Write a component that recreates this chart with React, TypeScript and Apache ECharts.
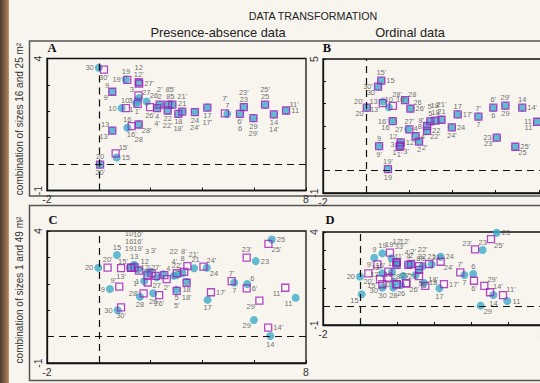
import React, { useEffect, useRef } from "react";
import * as echarts from "echarts";

type Pt = [number, number];
type Lab = string | [number, number];

const FONT = "'Liberation Sans', Arial, Helvetica, sans-serif";
const SERIF = "'Liberation Serif', 'Times New Roman', serif";
const TEAL = "#3caac8";
const PURPLE = "#a01eb9";

const mainTitle = "DATA TRANSFORMATION";
const colTitles = ["Presence-absence data", "Ordinal data"];
const rowTitles = ["combination of sizes 16 and 25 m²", "combination of sizes 1 and 49 m²"];
const panelLetters = ["A", "B", "C", "D"];

const xMinAll = -2;
const yMinAll = -1;
const xMaxes = [8, 10, 8, 10];
const yMaxes = [4, 5, 4, 4];

// ---------- Panel A (presence-absence, sizes 16 & 25) ----------
const aCircles: Pt[] = [
  [1.45, 2.3], [2.35, 2.25], [1.5, 2.4], [2.25, 2.12], [2.84, 2.25],
  [5.45, 1.9], [4.96, 1.9], [2.68, 2.25], [0.52, 2.74], [0.88, 2.12],
  [7.23, 2.03], [1.54, 3.1], [0.52, 1.27], [6.76, 1.88], [0.69, 0.25],
  [1.1, 1.38], [4.19, 2.14], [3.07, 1.9], [1.05, 3.2], [0.05, -0.02],
  [3.22, 1.99], [2.66, 2.03], [5.6, 2.16], [3.71, 1.97], [6.42, 2.25],
  [1.85, 2.37], [1.55, 2.5], [1.54, 1.5], [5.97, 1.74], [0.0, 3.65],
];
const aSquares: Pt[] = [
  [1.5, 2.28], [2.35, 2.25], [1.53, 2.6], [2.25, 2.12], [2.84, 2.25],
  [5.45, 1.9], [4.87, 1.92], [2.68, 2.25], [0.52, 2.74], [1.05, 2.12],
  [7.23, 2.03], [1.54, 3.1], [0.52, 1.27], [6.76, 1.88], [0.65, 0.41],
  [1.27, 1.44], [4.19, 2.14], [3.07, 1.9], [1.1, 3.19], [0.05, -0.02],
  [3.22, 1.99], [2.66, 2.03], [5.6, 2.16], [3.71, 1.97], [6.42, 2.25],
  [1.98, 2.16], [1.56, 3.05], [1.54, 1.5], [5.97, 1.74], [0.2, 3.58],
];
const aCircleLab: Lab[] = [
  "bl", "t", "l", "b", "t", "bb", "t", "t", "tl", "l",
  "r", "tt", "tl", "b", "r", "t", "b", "b", "t", "t",
  "t", "b", "t", "b", "t", "tr", "tr", "bb", "b", "l",
];
const aSquareLab: Lab[] = [
  "b", "tt", "tl", "bb", "tt", "b", "tt", "tt", "bl", "t",
  "tr", "t", "bl", "bb", "tr", "b", "bb", "bb", "l", "b",
  "tt", "bb", "tt", "bb", "tt", "b", "r", "br", "bb", "b",
];

// ---------- Panel B (ordinal, sizes 16 & 25) ----------
const bCircles: Pt[] = [
  [1.55, 1.07], [2.45, 1.3], [1.55, 1.15], [2.29, 1.55], [2.97, 2.21],
  [5.89, 2.82], [5.2, 2.42], [2.82, 2.0], [0.6, 1.1], [1.05, 2.84],
  [7.92, 2.19], [1.58, 1.27], [0.77, 3.09], [7.23, 2.82], [0.7, 4.03],
  [1.23, 2.22], [4.24, 2.52], [3.21, 2.24], [1.01, 0.07], [0.03, 2.82],
  [3.49, 2.28], [2.82, 1.78], [6.05, 1.48], [3.97, 1.94], [6.91, 1.07],
  [2.05, 2.78], [1.95, 1.85], [1.8, 3.16], [6.45, 2.91], [0.55, 3.76],
];
const bSquares: Pt[] = [
  [1.55, 1.07], [2.45, 1.3], [1.58, 1.12], [2.29, 1.55], [2.97, 2.21],
  [5.89, 2.82], [5.2, 2.42], [2.82, 2.0], [0.6, 1.1], [1.24, 2.9],
  [7.92, 2.19], [1.6, 1.27], [0.77, 3.02], [7.23, 2.82], [0.7, 4.03],
  [1.23, 2.22], [4.24, 2.52], [3.21, 2.24], [1.01, 0.07], [0.03, 2.82],
  [3.49, 2.28], [2.82, 1.78], [6.05, 1.48], [3.97, 1.94], [6.91, 1.07],
  [2.05, 2.78], [2.0, 1.85], [1.8, 3.16], [6.45, 2.91], [0.55, 3.76],
];
const bCircleLab: Lab[] = [
  "bl", "b", "l", "t", "t", "b", "b", "l", "t", "t",
  "l", "tl", "l", "t", "r", "bl", "t", "t", "b", "bl",
  "t", "r", "l", "r", "br", "tr", "l", "tr", "b", "bl",
];
const bSquareLab: Lab[] = [
  "b", "br", "br", "r", "tt", "t", "t", "tl", "b", "tr",
  "bl", "r", "bl", "r", "t", "l", "r", "tt", "t", "tl",
  "tt", "br", "bl", "b", "r", "r", "t", "tl", "t", "l",
];

// ---------- Panel C (presence-absence, sizes 1 & 49) ----------
const cCircles: Pt[] = [
  [1.75, 2.1], [2.9, 2.3], [1.98, 2.46], [2.49, 2.36], [3.0, 1.77],
  [5.73, 1.99], [5.23, 2.04], [3.23, 2.4], [0.43, 1.8], [1.34, 2.68],
  [7.6, 1.47], [1.85, 2.4], [1.37, 2.72], [6.62, 0.02], [0.7, 3.09],
  [1.52, 2.55], [4.2, 1.39], [3.39, 2.08], [1.2, 2.62], [-0.02, 2.61],
  [3.68, 2.59], [3.01, 2.33], [6.06, 2.86], [4.17, 2.61], [6.68, 3.68],
  [2.1, 1.64], [2.24, 2.25], [1.59, 1.51], [5.99, 0.63], [0.73, 1.0],
];
const cSquares: Pt[] = [
  [1.89, 2.05], [2.62, 2.18], [2.04, 2.4], [2.53, 2.33], [3.01, 1.73],
  [5.71, 1.83], [5.13, 2.1], [3.3, 2.45], [0.79, 1.89], [1.38, 2.62],
  [7.2, 1.85], [1.88, 2.32], [0.86, 2.59], [6.54, 0.34], [1.24, 2.61],
  [1.55, 2.5], [4.33, 1.68], [3.39, 2.04], [1.25, 2.6], [0.34, 2.61],
  [3.42, 2.67], [3.01, 2.4], [5.71, 2.99], [4.04, 2.65], [6.55, 3.51],
  [2.33, 1.57], [2.2, 2.3], [1.73, 1.64], [6.2, 1.36], [0.86, 1.11],
];
const cCircleLab: Lab[] = [
  "l", "tr", [-3, -20], "tr", "b", "tr", "b", [0, -15], "l", [-4.5, -32],
  "bl", [-2, -11.5], "t", "b", "t", [-9, -28], "b", "b", [-1, -19], "l",
  [1.5, -9], [-3, -23.4], "r", "br", "r", "b", "b", "b", "bl", "l",
];
const cSquareLab: Lab[] = [
  [-12, 1], "b", [2, -23], [10, -14], "bb", "r", "t", [-0.5, -20], "tl", [3.5, -33],
  "bl", [-2, -7.5], "b", "r", "tl", [-1, -29], "r", "bb", [7, -19.5], "t",
  [6, -12], "t", "t", "tr", "br", "b", "t", "l", "bl", "b",
];

// ---------- Panel D (ordinal, sizes 1 & 49) ----------
const dCircles: Pt[] = [
  [1.98, 2.23], [2.76, 2.28], [1.71, 2.59], [2.61, 2.23], [3.01, 1.69],
  [6.12, 1.74], [5.64, 1.69], [3.39, 2.17], [0.77, 2.62], [1.85, 1.3],
  [7.96, 0.29], [1.98, 2.37], [1.21, 1.78], [7.21, 0.61], [0.09, 0.65],
  [1.73, 1.85], [4.29, 0.97], [3.46, 1.26], [1.21, 2.85], [0.0, 1.6],
  [3.88, 2.26], [3.19, 1.96], [6.63, 3.03], [4.36, 2.67], [7.39, 3.96],
  [2.22, 1.15], [2.34, 1.63], [1.8, 1.01], [6.52, 0.04], [1.21, 1.01],
];
const dSquares: Pt[] = [
  [1.98, 2.23], [2.76, 2.28], [1.98, 2.37], [2.61, 2.23], [3.19, 1.63],
  [6.16, 1.38], [5.42, 1.83], [3.19, 2.17], [0.94, 2.26], [1.98, 1.19],
  [7.73, 0.61], [1.98, 2.37], [1.53, 1.54], [7.03, 0.76], [1.08, 1.47],
  [1.53, 1.87], [4.54, 1.2], [3.53, 1.1], [1.62, 2.89], [0.45, 1.78],
  [3.73, 2.28], [3.19, 1.96], [6.22, 3.07], [4.36, 2.4], [7.08, 3.62],
  [2.5, 1.24], [2.5, 1.24], [1.98, 1.19], [6.72, 1.1], [1.21, 1.19],
];
const dCircleLab: Lab[] = [
  "t", "t", [5, -11.6], "t", [5, 9], "t", "b", "t", "t", [-6, -8],
  "r", [0, -21], "tl", "b", "bl", "t", "b", "r", "t", "l",
  "t", [3, -13], "t", "r", "r", "b", "r", "b", "br", "b",
];
const dSquareLab: Lab[] = [
  [4, -8], [2, -12], [5, -15.6], [-1, -12.7], [6, 9], "b", "t", "t", "l", "l",
  "tr", [8, -20.6], [-13, -3.4], "tr", "bl", "tl", "r", "tr", "t", "b",
  "tr", [3.7, -20], "tl", "br", "br", "br", "t", "t", "tr", "bl",
];

const panels = [
  { circles: aCircles, squares: aSquares, cLab: aCircleLab, sLab: aSquareLab },
  { circles: bCircles, squares: bSquares, cLab: bCircleLab, sLab: bSquareLab },
  { circles: cCircles, squares: cSquares, cLab: cCircleLab, sLab: cSquareLab },
  { circles: dCircles, squares: dSquares, cLab: dCircleLab, sLab: dSquareLab },
];

const grids = [
  { left: 47, top: 58.5, width: 259, height: 132 },
  { left: 323, top: 59, width: 259, height: 134 },
  { left: 47, top: 231, width: 259, height: 132 },
  { left: 323, top: 232, width: 222, height: 93 },
];

function offsetFor(code: Lab, text: string): [number, number] {
  if (Array.isArray(code)) return code;
  const half = (text.replace("'", "").length * 4.2 + (text.endsWith("'") ? 1.5 : 0)) / 2;
  switch (code) {
    case "t": return [0, -8];
    case "tt": return [0, -15];
    case "ttt": return [0, -22];
    case "b": return [0, 8];
    case "bb": return [0, 15];
    case "l": return [-(half + 5), 0];
    case "r": return [half + 5, 0];
    case "tl": return [-(half + 3), -6];
    case "tr": return [half + 3, -6];
    case "bl": return [-(half + 3), 6];
    case "br": return [half + 3, 6];
    default: return [0, 0];
  }
}

function makeData(pts: Pt[], labs: Lab[], suffix: string) {
  return pts.map((p, i) => {
    const name = `${i + 1}${suffix}`;
    return { name, value: p, label: { offset: offsetFor(labs[i], name) } };
  });
}

export default function App() {
  const ref = useRef<HTMLDivElement>(null);
  useEffect(() => {
    if (!ref.current) return;
    const chart = echarts.init(ref.current, undefined, { renderer: "svg" });
    const labelBase = {
      show: true,
      position: "inside",
      formatter: "{b}",
      fontSize: 7.5,
      color: "#4a4a4a",
      fontFamily: FONT,
    };
    const series: any[] = [];
    panels.forEach((p, k) => {
      series.push({
        type: "scatter",
        xAxisIndex: k,
        yAxisIndex: k,
        symbol: "circle",
        symbolSize: 8,
        itemStyle: { color: TEAL },
        label: labelBase,
        silent: true,
        data: makeData(p.circles, p.cLab, ""),
        markLine: {
          silent: true,
          symbol: "none",
          label: { show: false },
          lineStyle: { type: [7, 5], color: "#111", width: 1.2 },
          data: [{ xAxis: 0 }, { yAxis: 0 }],
        },
        z: 2,
      });
      series.push({
        type: "scatter",
        xAxisIndex: k,
        yAxisIndex: k,
        symbol: "rect",
        symbolSize: 7,
        itemStyle: { color: "rgba(0,0,0,0)", borderColor: PURPLE, borderWidth: 1.3 },
        label: labelBase,
        silent: true,
        data: makeData(p.squares, p.sLab, "'"),
        z: 3,
      });
    });

    const axisCommon = {
      axisLine: { show: true, onZero: false, lineStyle: { color: "#111", width: 1.3 } },
      axisTick: { show: true, inside: true, length: 3, lineStyle: { color: "#111", width: 1 } },
      splitLine: { show: false },
    };

    const xAxis = grids.map((_, k) => ({
      gridIndex: k,
      type: "value",
      min: xMinAll,
      max: xMaxes[k],
      interval: 2,
      ...axisCommon,
      axisLabel: {
        fontSize: 10.5,
        color: "#333",
        fontFamily: FONT,
        margin: 3,
        formatter: (v: number) => (v === xMinAll || v === xMaxes[k] ? String(v) : ""),
      },
    }));
    const yAxis = grids.map((_, k) => ({
      gridIndex: k,
      type: "value",
      min: yMinAll,
      max: yMaxes[k],
      interval: 1,
      ...axisCommon,
      axisLabel: {
        fontSize: 10.5,
        color: "#333",
        fontFamily: FONT,
        margin: 4,
        rotate: 90,
        formatter: (v: number) => (v === yMinAll || v === yMaxes[k] ? String(v) : ""),
      },
    }));

    const txt = (text: string, x: number, y: number, size: number, extra: any = {}) => ({
      type: "text",
      x,
      y,
      silent: true,
      ...extra,
      style: {
        text,
        fontSize: size,
        fontFamily: FONT,
        fill: "#222",
        align: "center",
        verticalAlign: "middle",
        textAlign: "center",
        textVerticalAlign: "middle",
        ...(extra.style || {}),
      },
    });

    const graphic: any[] = [
      {
        type: "rect",
        silent: true,
        shape: { x: 0, y: 0, width: 9, height: 383 },
        style: {
          fill: new echarts.graphic.LinearGradient(0, 0, 1, 0, [
            { offset: 0, color: "#4e3b2c" },
            { offset: 0.45, color: "#7a5f48" },
            { offset: 0.8, color: "#a3724c" },
            { offset: 1, color: "#c49a74" },
          ]),
        },
      },
      {
        type: "rect",
        silent: true,
        shape: { x: 29.5, y: 41, width: 560, height: 155 },
        style: { fill: "none", stroke: "#555", lineWidth: 1.5 },
      },
      {
        type: "rect",
        silent: true,
        shape: { x: 29.5, y: 205.5, width: 560, height: 175 },
        style: { fill: "none", stroke: "#555", lineWidth: 1.5 },
      },
      txt(mainTitle, 313, 15.5, 10.7),
      txt(colTitles[0], 218, 32.7, 12.8),
      txt(colTitles[1], 410, 32.7, 12.8),
      txt(rowTitles[0], 19, 119, 10, { rotation: Math.PI / 2, style: { fill: "#333" } }),
      txt(rowTitles[1], 19, 290, 10, { rotation: Math.PI / 2, style: { fill: "#333" } }),
      txt(panelLetters[0], 52, 48, 12.5, { style: { fontFamily: SERIF, fontWeight: "bold", fill: "#111" } }),
      txt(panelLetters[1], 327, 47.5, 12.5, { style: { fontFamily: SERIF, fontWeight: "bold", fill: "#111" } }),
      txt(panelLetters[2], 53, 220, 12.5, { style: { fontFamily: SERIF, fontWeight: "bold", fill: "#111" } }),
      txt(panelLetters[3], 330, 220, 12.5, { style: { fontFamily: SERIF, fontWeight: "bold", fill: "#111" } }),
    ];

    chart.setOption({
      animation: false,
      backgroundColor: "#f7f5ee",
      grid: grids.map((g) => ({
        ...g,
        show: true,
        borderColor: "#111",
        borderWidth: 1.3,
        backgroundColor: "transparent",
        outerBoundsMode: "none",
        containLabel: false,
      })),
      xAxis,
      yAxis,
      series,
      graphic,
    });
    return () => chart.dispose();
  }, []);
  return (
    <div
      ref={ref}
      style={{ position: "fixed", left: 0, top: 0, width: 540, height: 383, background: "#f7f5ee" }}
    />
  );
}
